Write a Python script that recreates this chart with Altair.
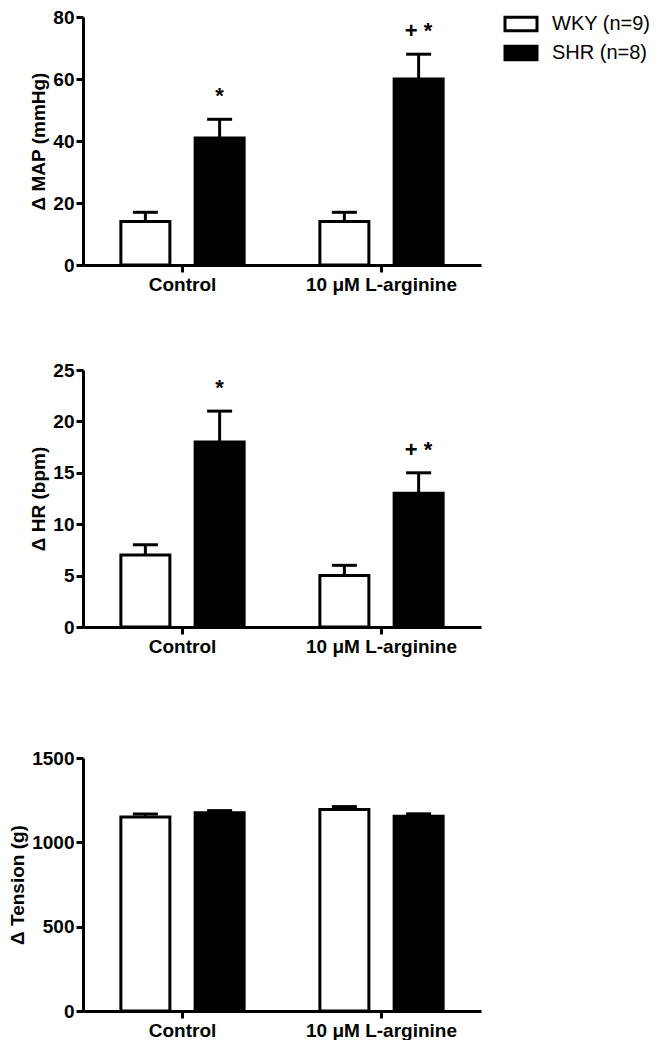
import altair as alt
import pandas as pd

categories = ["Control", "10 μM L-arginine"]
groups = ["WKY (n=9)", "SHR (n=8)"]

map_wky = [14, 14]
map_wky_err = [3, 3]
map_shr = [41, 60]
map_shr_err = [6, 8]
map_marks = ["", "*", "", "+ *"]

hr_wky = [7, 5]
hr_wky_err = [1, 1]
hr_shr = [18, 13]
hr_shr_err = [3, 2]
hr_marks = ["", "*", "", "+ *"]

ten_wky = [1150, 1195]
ten_wky_err = [18, 17]
ten_shr = [1175, 1155]
ten_shr_err = [13, 14]
ten_marks = ["", "", "", ""]


def make_df(wky, wky_err, shr, shr_err, marks):
    rows = []
    i = 0
    for c, cat in enumerate(categories):
        for g, (vals, errs) in enumerate([(wky, wky_err), (shr, shr_err)]):
            rows.append({"cat": cat, "group": groups[g], "value": vals[c],
                         "top": vals[c] + errs[c], "mark": marks[i]})
            i += 1
    return pd.DataFrame(rows)


FONT = "Liberation Sans"
W = 398


def panel(df, title, ymax, step, height, show_legend):
    x = alt.X("cat:N", sort=categories, title=None,
              scale=alt.Scale(paddingInner=0, paddingOuter=0),
              axis=alt.Axis(labelAngle=0, labelFont=FONT, labelFontSize=19,
                            labelFontWeight="bold", labelColor="black",
                            domainColor="black", domainWidth=3,
                            tickColor="black", tickWidth=3, tickSize=7,
                            labelPadding=3))
    xo = alt.XOffset("group:N", sort=groups,
                     scale=alt.Scale(paddingInner=0.34, paddingOuter=0.51))
    y_axis = alt.Axis(values=list(range(0, ymax + 1, step)), grid=False, format="d",
                      labelFont=FONT, labelFontSize=19, labelFontWeight="bold",
                      labelColor="black", domainColor="black", domainWidth=3,
                      tickColor="black", tickWidth=3, tickSize=7, labelPadding=2,
                      titleFont=FONT, titleFontSize=19, titleFontWeight="bold",
                      titleColor="black", titlePadding=4)
    y = alt.Y("value:Q", title=title, scale=alt.Scale(domain=[0, ymax], nice=False),
              axis=y_axis)
    if show_legend:
        color = alt.Color("group:N", sort=groups,
                          scale=alt.Scale(domain=groups, range=["white", "black"]),
                          legend=alt.Legend(
                              title=None, orient="none", legendX=428, legendY=-3,
                              symbolType="M-2,-0.85H2V0.85H-2Z", symbolSize=256,
                              symbolStrokeColor="black", symbolStrokeWidth=3,
                              labelFont=FONT, labelFontSize=20, labelColor="black",
                              labelOffset=21, rowPadding=3, padding=0))
    else:
        color = alt.Color("group:N", sort=groups,
                          scale=alt.Scale(domain=groups, range=["white", "black"]),
                          legend=None)
    base = alt.Chart(df)
    err = base.mark_rule(color="black", strokeWidth=3).encode(
        x=x, xOffset=xo, y="value:Q", y2="top:Q")
    cap = base.mark_tick(color="black", thickness=3, size=25, opacity=1).encode(
        x=x, xOffset=xo, y="top:Q")
    bars = base.mark_bar(stroke="black", strokeWidth=3, size=49).encode(
        x=x, xOffset=xo, y=y, color=color)
    txt = base.mark_text(font=FONT, fontSize=22, fontWeight="bold", color="black",
                         baseline="alphabetic", dy=-16).encode(
        x=x, xOffset=xo, y="top:Q", text="mark:N")
    return alt.layer(err, cap, bars, txt).properties(width=W, height=height)


def spacer(h):
    return alt.Chart(pd.DataFrame({"a": [0]})).mark_point(opacity=0).encode(
        x=alt.X("a:Q", axis=None, scale=alt.Scale(domain=[0, 1])),
        y=alt.Y("a:Q", axis=None, scale=alt.Scale(domain=[0, 1]))
    ).properties(width=W, height=h)


p1 = panel(make_df(map_wky, map_wky_err, map_shr, map_shr_err, map_marks),
           "Δ MAP (mmHg)", 80, 20, 248, True)
p2 = panel(make_df(hr_wky, hr_wky_err, hr_shr, hr_shr_err, hr_marks),
           "Δ HR (bpm)", 25, 5, 257, False)
p3 = panel(make_df(ten_wky, ten_wky_err, ten_shr, ten_shr_err, ten_marks),
           "Δ Tension (g)", 1500, 500, 253, False)

S = 10
chart = alt.vconcat(p1, spacer(105 - 2 * S), p2, spacer(131 - 2 * S), p3,
                    spacing=S, bounds="flush").properties(
    padding={"left": 0, "top": 0, "right": 0, "bottom": 0},
    background="white"
).configure_view(strokeWidth=0).configure_axis(grid=False)

chart.save("out.html", embed_options={"renderer": "svg", "actions": False})
